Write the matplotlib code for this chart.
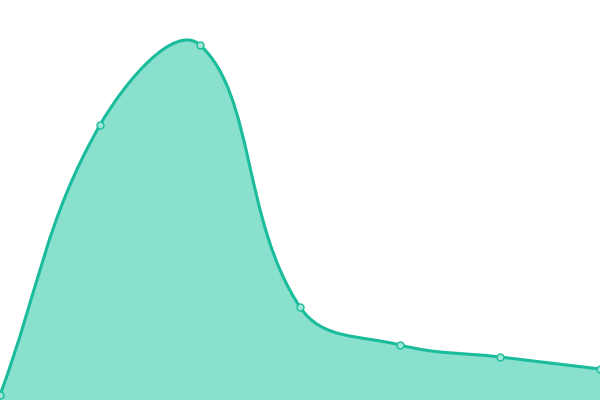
import numpy as np
import matplotlib.pyplot as plt
from matplotlib.path import Path
from matplotlib.patches import PathPatch

# data (y measured up from the bottom edge, axis 0..400)
x_vals = [0, 100, 200, 300, 400, 500, 600]
y_vals = [5, 275, 355, 93, 55, 43, 31]

line_color = '#1abc9c'
fill_color = '#88e0cd'
tension = 0.4


def control_points(xs, ys, t):
    # Chart.js style spline control points
    pts = np.column_stack([xs, ys]).astype(float)
    n = len(pts)
    cp_prev = pts.copy()
    cp_next = pts.copy()
    for i in range(n):
        prev = pts[max(i - 1, 0)]
        cur = pts[i]
        nxt = pts[min(i + 1, n - 1)]
        d01 = np.hypot(*(cur - prev))
        d12 = np.hypot(*(nxt - cur))
        tot = d01 + d12
        s01 = d01 / tot if tot else 0
        s12 = d12 / tot if tot else 0
        cp_prev[i] = cur - t * s01 * (nxt - prev)
        cp_next[i] = cur + t * s12 * (nxt - prev)
    return pts, cp_prev, cp_next


pts, cpp, cpn = control_points(x_vals, y_vals, tension)

verts = [tuple(pts[0])]
codes = [Path.MOVETO]
for i in range(1, len(pts)):
    verts += [tuple(cpn[i - 1]), tuple(cpp[i]), tuple(pts[i])]
    codes += [Path.CURVE4] * 3

line_path = Path(verts, codes)
fill_path = Path(verts + [(x_vals[-1], 0), (x_vals[0], 0), verts[0]],
                 codes + [Path.LINETO, Path.LINETO, Path.CLOSEPOLY])

fig = plt.figure(figsize=(6, 4), dpi=100)
ax = fig.add_axes([0, 0, 1, 1])
ax.add_patch(PathPatch(fill_path, facecolor=fill_color, edgecolor='none'))
ax.add_patch(PathPatch(line_path, facecolor='none', edgecolor=line_color, lw=2.2,
                       capstyle='round', joinstyle='round'))
ax.plot(x_vals, y_vals, 'o', ms=5, mfc='#9fe6d6', mec=line_color, mew=1, clip_on=False)
ax.set_xlim(0, 600)
ax.set_ylim(0, 400)
ax.axis('off')

fig.savefig('out.png', dpi=100)
